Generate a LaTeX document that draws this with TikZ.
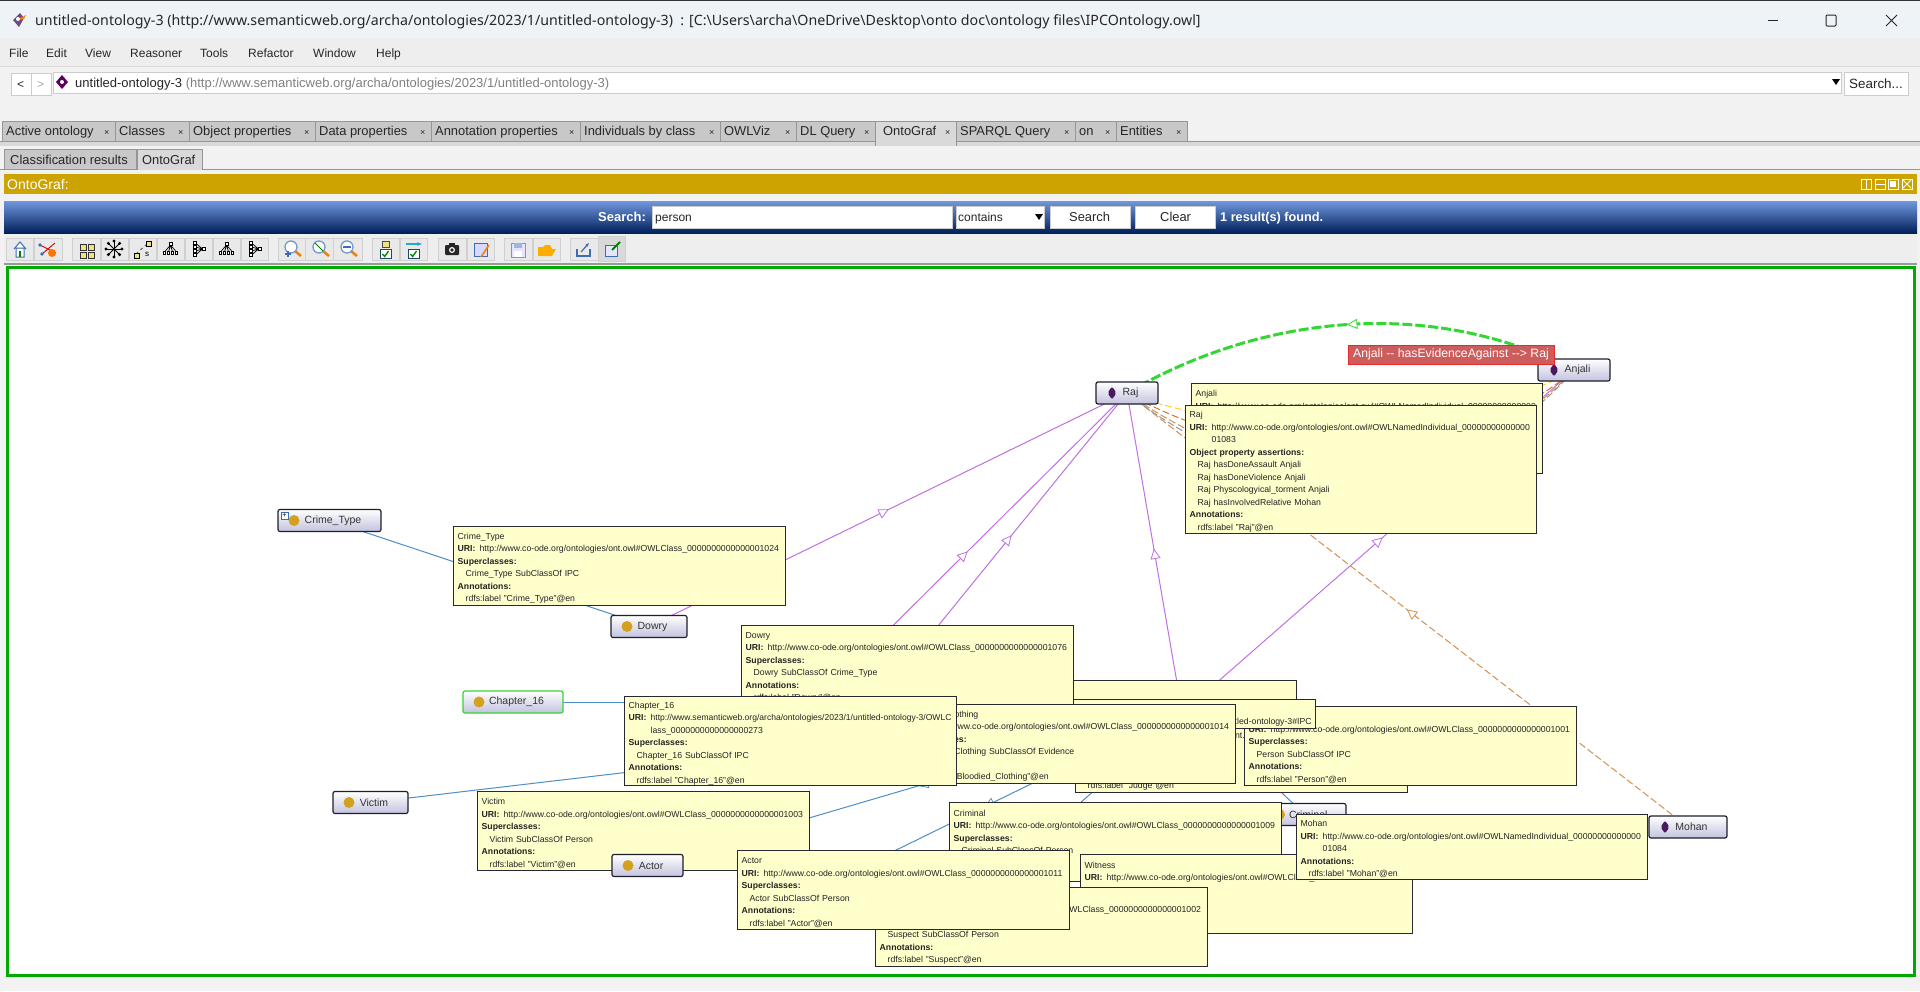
\documentclass[tikz,border=0pt]{standalone}
\usepackage{fontspec}
\setmainfont{Liberation Sans}
\newfontfamily\titlefont{Noto Sans}
\usetikzlibrary{arrows.meta, positioning, backgrounds, decorations.markings}
\definecolor{chromebg}{RGB}{242,242,242}
\definecolor{titlebg}{RGB}{238,243,248}
\definecolor{menubg}{RGB}{238,238,238}
\definecolor{tabgray}{RGB}{200,200,200}
\definecolor{tabline}{RGB}{150,150,150}
\definecolor{goldbar}{RGB}{204,163,0}
\definecolor{bartop}{RGB}{113,151,220}
\definecolor{barbottom}{RGB}{0,32,91}
\definecolor{canvasgreen}{RGB}{0,170,0}
\definecolor{tipfill}{RGB}{255,255,204}
\definecolor{tipline}{RGB}{40,40,48}
\definecolor{tiptext}{RGB}{35,35,35}
\definecolor{nodeline}{RGB}{30,30,46}
\definecolor{nodeshade}{RGB}{194,194,222}
\definecolor{dotgold}{RGB}{212,160,32}
\definecolor{diamondpurple}{RGB}{75,26,94}
\definecolor{edgepurple}{RGB}{192,112,224}
\definecolor{edgeblue}{RGB}{79,142,201}
\definecolor{edgebrown}{RGB}{212,144,80}
\definecolor{edgegreen}{RGB}{51,214,51}
\definecolor{edgeyellow}{RGB}{255,208,32}
\definecolor{edgeorange}{RGB}{224,118,44}
\definecolor{edgegray}{RGB}{150,150,150}
\definecolor{labelred}{RGB}{205,92,92}
\definecolor{btnfill}{RGB}{233,233,233}
\definecolor{btnline}{RGB}{208,208,208}
\definecolor{iconblue}{RGB}{60,110,180}
\definecolor{iconyellow}{RGB}{240,225,130}
\newcommand{\uri}[1]{\mbox{\makebox[22pt][l]{\textbf{URI:}}#1}}
\newcommand{\tipin}{\hspace*{8pt}}
\newcommand{\uriwrap}{\hspace*{22pt}}
\tikzset{
  chrometext/.style={anchor=base west,inner sep=0pt,font=\fontsize{12}{14}\selectfont,text=black!85},
  tabtext/.style={chrometext,font=\fontsize{12.9}{14}\selectfont},
  tabbox/.style={draw=tabline,fill=tabgray},
  toolbtn/.style={draw=btnline,fill=btnfill,line width=.8pt},
  fieldbox/.style={draw=black!20,fill=white,line width=.8pt},
  tipbox/.style={draw=tipline,line width=1.3pt,fill=tipfill,anchor=north west,inner xsep=4pt,inner ysep=0pt,
    font=\fontsize{8.7}{12.5}\selectfont,text=tiptext,align=left,
    execute at begin node={\vrule width 0pt height 10.7pt\relax}},
  tipclass/.style={tipbox,text width=324pt,minimum height=79pt},
  tipindiv/.style={tipbox,text width=343pt},
  graphnode/.style={draw=nodeline,line width=1.2pt,rounded corners=2pt,top color=white,bottom color=nodeshade,
    minimum height=22pt,inner sep=0pt,font=\fontsize{10.5}{12}\selectfont,text=black!80,
    execute at begin node={\hspace*{7pt}}},
  classnode/.style={graphnode,path picture={\fill[dotgold] ([xshift=16pt]path picture bounding box.west) circle (5.5pt);}},
  individual/.style={graphnode,path picture={\fill[diamondpurple] ([xshift=11.5pt]path picture bounding box.west) -- ++(4.5pt,6.5pt) -- ++(4.5pt,-6.5pt) -- ++(-4.5pt,-6.5pt) -- cycle;}},
  midtip/.style={postaction={decorate},decoration={markings,mark=at position .5 with
    {\draw[solid,fill=white,draw=#1,line width=.8pt] (0pt,0pt) -- (-9pt,4.5pt) -- (-9pt,-4.5pt) -- cycle;}}},
  isaedge/.style={draw=edgeblue,line width=1pt,midtip=edgeblue},
  instanceedge/.style={draw=edgepurple,line width=1pt,midtip=edgepurple},
  relativeedge/.style={draw=edgebrown,line width=1pt,dash pattern=on 7pt off 3pt,midtip=edgebrown},
  evidenceedge/.style={draw=edgegreen,line width=3pt,dash pattern=on 10pt off 3pt,midtip=edgegreen},
  assertedge/.style={line width=1pt,dash pattern=on 7pt off 3pt},
  treedown/.pic={
    \draw[black,line width=.7pt] (0,-4) -- (-6,3) (0,-4) -- (-2,3) (0,-4) -- (2,3) (0,-4) -- (6,3);
    \foreach \tx in {-6,-2,2,6} \draw[black,fill=white,line width=.7pt] (\tx-1.3,2) rectangle (\tx+1.3,5);
    \draw[black,fill=white,line width=.7pt] (-1.5,-7) rectangle (1.5,-4);
  },
  lens/.pic={
    \draw[orange!70!brown,line width=2.5pt] (3,3) -- (9,8);
    \draw[iconblue!70,fill=white,line width=1.3pt] (-1,-1) circle (6);
  },
  checkbox/.pic={
    \draw[iconblue!60!black,fill=white,line width=.9pt] (-5.5,-4.5) rectangle (5.5,4.5);
    \draw[green!55!black,line width=1.4pt] (-3,0) -- (-.8,2.5) -- (3,-3);
  }
}
\begin{document}
\begin{tikzpicture}[x=1pt,y=-1pt]
\useasboundingbox (0,0) rectangle (1920,991);

% graph nodes
\node[classnode,minimum width=103pt] (crimetype) at (329.5,520.5) {Crime\_Type};
\node[classnode,minimum width=76pt] (dowry) at (649,626.5) {Dowry};
\node[classnode,minimum width=100pt,draw=edgegreen] (chapter) at (513,702) {Chapter\_16};
\node[classnode,minimum width=75pt] (victim) at (370.5,802.5) {Victim};
\node[classnode,minimum width=82.5pt] (criminal) at (1304.75,814.5) {Criminal};
\node[individual,minimum width=62pt] (raj) at (1127,393) {Raj};
\node[individual,minimum width=72pt] (anjali) at (1574,370) {Anjali};
\node[individual,minimum width=78pt] (mohan) at (1688,827) {Mohan};
\node[draw=iconblue,fill=white,minimum size=7pt,inner sep=0pt,font=\fontsize{7}{7}\selectfont] (crimeplus) at (284.5,515.5) {+};

% ends of the edges that lie under the tooltips
\coordinate (personnode) at (1190,706);
\coordinate (ipcnode) at (760,702);
\coordinate (witnessnode) at (1020,856);
\coordinate (suspectnode) at (780,907);
\coordinate (rajclassa) at (807,711);
\coordinate (rajclassb) at (895,679);
\coordinate (rajclassc) at (1181,706);

% tooltips
\node[tipclass] (tipcrime) at (453,526) {Crime\_Type\\\uri{http://www.co-ode.org/ontologies/ont.owl\#OWLClass\_0000000000000001024}\\\textbf{Superclasses:}\\\tipin Crime\_Type SubClassOf IPC\\\textbf{Annotations:}\\\tipin rdfs:label "Crime\_Type"@en};
\node[tipbox,text width=300pt,minimum height=40pt] (tipback) at (988,680) {};
\node[tipclass] (tipjudge) at (1075,713) {\mbox{}\\\uri{http://www.co-ode.org/ontologies/ont.owl\#OWLClass\_}\\\mbox{}\\\mbox{}\\\mbox{}\\\tipin rdfs:label "Judge"@en};
\node[tipclass] (tipperson) at (1244,706) {\mbox{}\\\uri{http://www.co-ode.org/ontologies/ont.owl\#OWLClass\_0000000000000001001}\\\textbf{Superclasses:}\\\tipin Person SubClassOf IPC\\\textbf{Annotations:}\\\tipin rdfs:label "Person"@en};
\node[tipbox,text width=400pt,minimum height=29pt,align=right] (tipipc) at (907,699) {\mbox{}\\http://www.semanticweb.org/archa/ontologies/2023/1/untitled-ontology-3\#IPC};
\node[tipclass] (tipdowry) at (741,625) {Dowry\\\uri{http://www.co-ode.org/ontologies/ont.owl\#OWLClass\_0000000000000001076}\\\textbf{Superclasses:}\\\tipin Dowry SubClassOf Crime\_Type\\\textbf{Annotations:}\\\tipin rdfs:label "Dowry"@en};
\node[tipclass] (tipcloth) at (903,704) {Bloodied\_Clothing\\\uri{http://www.co-ode.org/ontologies/ont.owl\#OWLClass\_0000000000000001014}\\\textbf{Superclasses:}\\\tipin Bloodied\_Clothing SubClassOf Evidence\\\mbox{}\\\tipin rdfs:label "Bloodied\_Clothing"@en};
\node[tipclass,minimum height=89pt] (tipchapter) at (624,696) {Chapter\_16\\\uri{\fontsize{8.55}{12.5}\selectfont http://www.semanticweb.org/archa/ontologies/2023/1/untitled-ontology-3/OWLC}\\\uriwrap lass\_0000000000000000273\\\textbf{Superclasses:}\\\tipin Chapter\_16 SubClassOf IPC\\\textbf{Annotations:}\\\tipin rdfs:label "Chapter\_16"@en};
\node[tipclass] (tipvictim) at (477,791) {Victim\\\uri{http://www.co-ode.org/ontologies/ont.owl\#OWLClass\_0000000000000001003}\\\textbf{Superclasses:}\\\tipin Victim SubClassOf Person\\\textbf{Annotations:}\\\tipin rdfs:label "Victim"@en};
\node[classnode,minimum width=71pt] (actor) at (647.5,865.5) {Actor};
\node[tipclass] (tipcriminal) at (949,802) {Criminal\\\uri{http://www.co-ode.org/ontologies/ont.owl\#OWLClass\_0000000000000001009}\\\textbf{Superclasses:}\\\tipin Criminal SubClassOf Person\\\mbox{}\\\mbox{}};
\node[tipclass] (tipwitness) at (1080,854) {Witness\\\uri{http://www.co-ode.org/ontologies/ont.owl\#OWLClass\_}\\\mbox{}\\\mbox{}\\\mbox{}\\\mbox{}};
\node[tipclass] (tipsuspect) at (875,887) {\mbox{}\\\uri{http://www.co-ode.org/ontologies/ont.owl\#OWLClass\_0000000000000001002}\\\mbox{}\\\tipin Suspect SubClassOf Person\\\textbf{Annotations:}\\\tipin rdfs:label "Suspect"@en};
\node[tipclass] (tipactor) at (737,850) {Actor\\\uri{http://www.co-ode.org/ontologies/ont.owl\#OWLClass\_0000000000000001011}\\\textbf{Superclasses:}\\\tipin Actor SubClassOf Person\\\textbf{Annotations:}\\\tipin rdfs:label "Actor"@en};
\node[tipindiv,minimum height=65pt] (tipmohan) at (1296,814) {Mohan\\\uri{http://www.co-ode.org/ontologies/ont.owl\#OWLNamedIndividual\_00000000000000}\\\uriwrap 01084\\\textbf{Annotations:}\\\tipin rdfs:label "Mohan"@en};
\node[tipindiv,minimum height=90pt] (tipanjali) at (1191,383) {Anjali\\\uri{http://www.co-ode.org/ontologies/ont.owl\#OWLNamedIndividual\_00000000000000}\\\mbox{}\\\mbox{}\\\mbox{}\\\mbox{}\\\mbox{}};
\node[tipindiv,minimum height=128pt] (tipraj) at (1185,405) {Raj\\\uri{http://www.co-ode.org/ontologies/ont.owl\#OWLNamedIndividual\_00000000000000}\\\uriwrap 01083\\\textbf{Object property assertions:}\\\tipin Raj hasDoneAssault Anjali\\\tipin Raj hasDoneViolence Anjali\\\tipin Raj Physcologyical\_torment Anjali\\\tipin Raj hasInvolvedRelative Mohan\\\textbf{Annotations:}\\\tipin rdfs:label "Raj"@en};

% edge label
\node[fill=labelred,draw=red!55!labelred,line width=.8pt,text=white,font=\fontsize{12.2}{14}\selectfont,minimum width=206pt,minimum height=19pt,inner sep=0pt] (edgelabel) at (1451,354.5) {Anjali -{}- hasEvidenceAgainst -{}-> Raj};

\begin{scope}[on background layer]
  % window
  \fill[chromebg] (0,0) rectangle (1920,991);
  \fill[titlebg] (0,0) rectangle (1920,38);
  \fill[black!80] (0,0) rectangle (1920,1);
  \fill[menubg] (0,38) rectangle (1920,66);
  \draw[black!15] (0,66.5) -- (1920,66.5);
  \fill[diamondpurple!80] (20,13) -- (24,18) -- (19,27) -- (13,20) -- cycle;
  \fill[orange] (17,20) -- (26,15) -- (24,19) -- cycle;
  \fill[white] (18,19) circle (2);
  \node[anchor=base west,inner sep=0pt,font=\titlefont\fontsize{14.2}{16}\selectfont,text=black!85] (wintitle) at (35,25) {untitled-ontology-3 (http://www.semanticweb.org/archa/ontologies/2023/1/untitled-ontology-3)\ \ : [C:\textbackslash Users\textbackslash archa\textbackslash OneDrive\textbackslash Desktop\textbackslash onto doc\textbackslash ontology files\textbackslash IPCOntology.owl]};
  \draw[black!85,line width=1pt] (1768,20) -- (1778,20);
  \draw[black!85,line width=1pt,rounded corners=1pt] (1826,15) rectangle (1836,26);
  \draw[black!85,line width=1pt] (1886,15) -- (1897,26) (1897,15) -- (1886,26);

  % menu
  \foreach \mx/\mname [count=\mi] in {9/File,46/Edit,85/View,130/Reasoner,200/Tools,248/Refactor,313/Window,376/Help}
    \node[chrometext] (menu\mi) at (\mx,57) {\mname};

  % address row
  \draw[fieldbox] (11,73) rectangle (31,95);
  \draw[fieldbox] (31,73) rectangle (51,95);
  \draw[fieldbox] (53,72) rectangle (1841,93);
  \draw[fieldbox] (1844,72) rectangle (1908,95);
  \node[chrometext] (navback) at (17,88) {<};
  \node[chrometext,text=black!35] (navnext) at (37,88) {>};
  \fill[violet!70!black] (62,75) -- (68,82) -- (62,89) -- (56,82) -- cycle;
  \fill[white] (62,82) circle (2);
  \node[tabtext,font=\fontsize{13}{14}\selectfont] (ontoname) at (75,87) {untitled-ontology-3 \textcolor{black!50}{(http://www.semanticweb.org/archa/ontologies/2023/1/untitled-ontology-3)}};
  \fill[black] (1832,79) -- (1840,79) -- (1836,85) -- cycle;
  \node[tabtext,font=\fontsize{13.4}{14}\selectfont] (addrsearch) at (1849,88) {Search...};

  % tabs
  \fill[black!15] (0,141) rectangle (1920,146);
  \draw[tabline] (0,141) -- (1920,141);
  \foreach \tl/\tr/\tname [count=\ti] in {2/115/Active ontology,115/189/Classes,189/315/Object properties,315/431/Data properties,431/580/Annotation properties,580/720/Individuals by class,720/796/OWLViz,796/875/DL Query,956/1075/SPARQL Query,1075/1116/on,1116/1187/Entities}{
    \draw[tabbox] (\tl,121) rectangle (\tr,141);
    \node[tabtext] (tab\ti) at (\tl+4,135.5) {\tname};
    \node[chrometext,font=\fontsize{9}{9}\selectfont] (tabx\ti) at (\tr-11,135) {×};
  }
  \draw[tabline,fill=black!15] (875,146) -- (875,121) -- (956,121) -- (956,146);
  \node[tabtext] (tabonto) at (883,135.5) {OntoGraf};
  \node[chrometext,font=\fontsize{9}{9}\selectfont] (tabontox) at (945,135) {×};
  \draw[tabline] (0,169.5) -- (1920,169.5);
  \draw[tabbox] (4,149) rectangle (136,169.5);
  \node[tabtext] (subtab1) at (10,164) {Classification results};
  \draw[tabline,fill=black!15] (137,169.5) -- (137,149) -- (202,149) -- (202,169.5);
  \node[tabtext] (subtab2) at (142,164) {OntoGraf};

  % view header
  \fill[goldbar] (4,174) rectangle (1917,194);
  \node[chrometext,text=white,font=\fontsize{14}{15}\selectfont] (viewtitle) at (7,189) {OntoGraf:};
  \foreach \hx in {1866,1880,1893,1907}
    \draw[white,line width=1pt] (\hx-5,179) rectangle (\hx+5,189);
  \draw[white,line width=1pt] (1866,179) -- (1866,189) (1876,184) -- (1885,184);
  \fill[white] (1890,181) rectangle (1896,187);
  \draw[white,line width=1pt] (1903,180) -- (1911,188) (1911,180) -- (1903,188);

  % search bar
  \shade[top color=bartop,bottom color=barbottom] (4,201) rectangle (1917,233);
  \node[chrometext,text=white,font=\bfseries\fontsize{13}{14}\selectfont] (searchlabel) at (598,221) {Search:};
  \draw[fieldbox] (652,206) rectangle (952,228);
  \node[chrometext] (searchtext) at (655,221) {person};
  \draw[fieldbox] (956,206) rectangle (1044,228);
  \node[chrometext] (searchmode) at (958,221) {contains};
  \fill[black] (1035,214) -- (1043,214) -- (1039,220) -- cycle;
  \draw[fieldbox] (1050,206) rectangle (1130,228);
  \node[tabtext] (searchbtn) at (1069,221.5) {Search};
  \draw[fieldbox] (1135,206) rectangle (1215,228);
  \node[tabtext] (clearbtn) at (1160,221.5) {Clear};
  \node[chrometext,text=white,font=\bfseries\fontsize{12.7}{14}\selectfont] (resultcount) at (1220,221) {1 result(s) found.};

  % toolbar
  \fill[menubg] (4,234) rectangle (1917,263);
  \draw[black!40,line width=1.5pt] (4,264) -- (1917,264);
  \foreach \bl/\br in {6/33,34/62,72/100,101/128,129/156,157/184,185/212,213/240,241/268,278/306,305/333,333/362,372/399,400/427,438/466,467/494,504/532,533/560,570/598}
    \draw[toolbtn] (\bl,238) rectangle (\br,260);
  \draw[toolbtn,fill=black!15] (598,236) rectangle (625,261);
  % home
  \draw[iconblue,fill=white,line width=1pt] (14,249) -- (20,242) -- (26,249) (16,248) rectangle (24,257);
  \fill[green!50!black] (19,251) rectangle (21,257);
  % reset
  \draw[red!80!black,line width=.9pt] (40,245) -- (56,253) (42,254) -- (55,243);
  \fill[iconblue] (42,254) circle (1.8) (40,245) circle (1.8);
  \fill[orange!90!red] (52,253) circle (4);
  % layouts
  \foreach \qx/\qy in {80/244,88/244,80/252,88/252} \draw[black!80,fill=iconyellow,line width=.8pt] (\qx,\qy) rectangle (\qx+6,\qy+6);
  \foreach \ra in {0,45,...,315} {\draw[black,line width=.8pt] (114,249) -- ++(\ra:8); \fill[black] (114,249) ++(\ra:8) circle (1.6);}
  \draw[black!70,line width=.8pt,dashed] (136,254) -- (148,243);
  \draw[black,fill=iconyellow] (134,253) rectangle (139,258) (146,241) rectangle (151,246);
  \node[inner sep=0pt,font=\fontsize{8}{8}\selectfont] (iconsym) at (147,254) {s};
  \pic at (170.5,249) {treedown};
  \pic[rotate=-90] at (198.5,249) {treedown};
  \pic at (226.5,249) {treedown};
  \pic[rotate=-90] at (254.5,249) {treedown};
  % zoom
  \pic at (292,248) {lens};
  \draw[iconblue,line width=1.5pt] (285,254) -- (291,254) (288,251) -- (288,257);
  \pic at (320,248) {lens};
  \draw[green!50!black,line width=1pt] (315,243) -- (323,251);
  \pic at (348,248) {lens};
  \draw[iconblue,line width=1.5pt] (343,247) -- (351,247);
  % view options
  \draw[black!70,fill=iconyellow,line width=.8pt] (382,241) rectangle (389,247);
  \pic at (385.5,254) {checkbox};
  \draw[iconblue!60!cyan,line width=2pt,-{Stealth[length=5pt]}] (406,244) -- (422,244);
  \pic at (413.5,254) {checkbox};
  % camera, save, load
  \fill[black!85,rounded corners=1pt] (445,245) rectangle (459,255);
  \fill[black!85] (449,243) rectangle (455,246);
  \fill[white] (452,250) circle (3);
  \fill[black!85] (452,250) circle (1.8);
  \draw[iconblue,fill=blue!15,line width=1pt] (474,243) rectangle (487,256);
  \draw[orange!80!brown,line width=1.6pt] (481,257) -- (489,245);
  \draw[iconblue!70,fill=blue!10,line width=1pt] (511,243) rectangle (525,257);
  \fill[iconblue!50] (514,243) rectangle (522,248);
  \fill[white] (514,251) rectangle (522,257);
  \fill[orange!65!yellow] (538,247) -- (543,247) -- (545,245) -- (550,245) -- (552,249) -- (556,249) -- (552,256) -- (538,256) -- cycle;
  % export
  \draw[iconblue,line width=1.2pt] (577,249) -- (577,256) -- (590,256) -- (590,249);
  \draw[iconblue,line width=1.2pt,-{Stealth[length=4pt]}] (581,252) -- (589,243);
  \draw[iconblue,fill=blue!10,line width=1pt] (605,245) rectangle (617,256);
  \draw[green!50!black,line width=2pt] (612,250) -- (620,242);

  % graph canvas
  \draw[canvasgreen,fill=white,line width=3pt] (7,267) rectangle (1914,975);

  % edges, drawn from the superclass or the asserting side as the tips show
  \draw[isaedge] (crimetype.center) -- (dowry.center);
  \draw[isaedge] (ipcnode) -- (chapter.center);
  \draw[isaedge] (personnode) -- (victim.center);
  \draw[isaedge] (personnode) -- (actor.center);
  \draw[isaedge] (personnode) -- (criminal.center);
  \draw[isaedge] (personnode) -- (witnessnode);
  \draw[isaedge] (personnode) -- (suspectnode);
  \draw[instanceedge] (dowry.center) -- (raj.center);
  \draw[instanceedge] (rajclassa) -- (raj.center);
  \draw[instanceedge] (rajclassb) -- (raj.center);
  \draw[instanceedge] (rajclassc) -- (raj.center);
  \draw[instanceedge] (personnode) -- (anjali.center);
  \draw[relativeedge] (mohan.center) -- (raj.center);
  \draw[assertedge,draw=edgeyellow] (raj.center) .. controls (1260,445) and (1480,425) .. (anjali.center);
  \draw[assertedge,draw=edgeorange] (raj.center) .. controls (1290,485) and (1480,452) .. (anjali.center);
  \draw[assertedge,draw=edgebrown] (raj.center) .. controls (1300,515) and (1470,480) .. (anjali.center);
  \draw[assertedge,draw=edgegray] (raj.center) .. controls (1290,523) and (1470,490) .. (anjali.center);
  \draw[evidenceedge] (anjali.center) .. controls (1425,294) and (1255,318) .. (raj.center);
\end{scope}
\end{tikzpicture}
\end{document}
